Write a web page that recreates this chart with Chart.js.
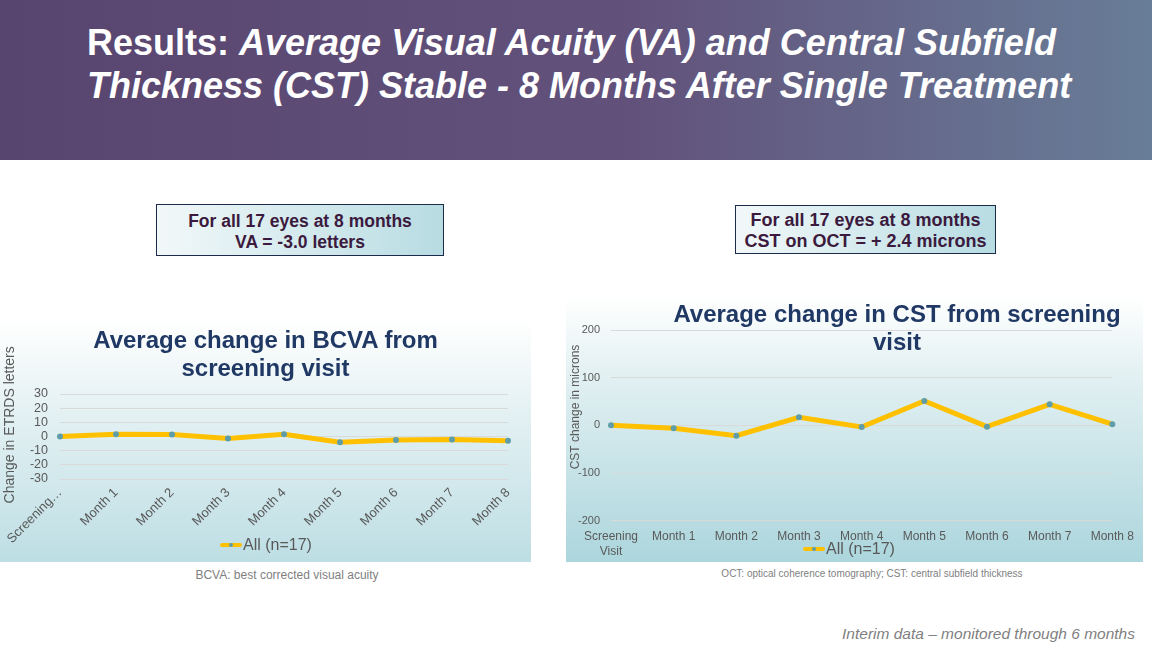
<!DOCTYPE html>
<html>
<head>
<meta charset="utf-8">
<script src="https://cdn.jsdelivr.net/npm/chart.js@4.4.0/dist/chart.umd.min.js"></script>
<style>
body { margin: 0; width: 1152px; height: 648px; position: relative; overflow: hidden; background: #fff; font-family: "Liberation Sans", Arial, sans-serif; }
.header { position: absolute; left: 0; top: 0; width: 1152px; height: 160px; background: linear-gradient(90deg, #58456f 0%, #62527b 55%, #687d98 100%); }
.headtitle { position: absolute; left: 87px; top: 21px; color: #fff; font-weight: bold; font-size: 36px; line-height: 43px; white-space: nowrap; }
.box { position: absolute; box-sizing: border-box; padding-top: 3px; border: 1.5px solid #1d2b4a; background: linear-gradient(90deg, #f2f8f9, #b7dce2); color: #3b1a3e; font-weight: bold; font-size: 17.5px; line-height: 21px; text-align: center; display: flex; flex-direction: column; justify-content: center; }
.panel { position: absolute; background: linear-gradient(180deg, #ffffff 0%, #e6f2f4 35%, #bddee4 100%); }
.ctitle { position: absolute; color: #1f3864; font-weight: bold; font-size: 24px; line-height: 28px; text-align: center; white-space: nowrap; }
.legend { position: absolute; color: #595959; font-size: 16px; line-height: 18px; white-space: nowrap; }
.legend i { display: inline-block; position: relative; width: 22px; height: 4px; background: #ffc000; border-radius: 2px; vertical-align: middle; margin-right: 1px; top: -1px; }
.legend i b { position: absolute; left: 9px; top: 0; width: 4px; height: 4px; border-radius: 2px; background: #5f9ea8; }
.note { position: absolute; color: #7f7f7f; white-space: nowrap; }
canvas { position: absolute; }
</style>
</head>
<body>
<div class="header"></div>
<div class="headtitle">Results: <i>Average Visual Acuity (VA) and Central Subfield</i><br><i>Thickness (CST) Stable - 8 Months After Single Treatment</i></div>

<div class="box" style="left:156px;top:204px;width:288px;height:52px;">For all 17 eyes at 8 months<br>VA = -3.0 letters</div>
<div class="box" style="left:735px;top:205px;width:261px;height:49px;font-size:18px;">For all 17 eyes at 8 months<br>CST on OCT = + 2.4 microns</div>

<div class="panel" style="left:0;top:320px;width:531px;height:242px;"></div>
<div class="panel" style="left:566px;top:297px;width:577px;height:265px;background:linear-gradient(180deg,#ffffff 0%,#e2f0f2 30%,#acd6dd 100%);"></div>

<div style="position:absolute;left:0;top:320px;width:531px;height:242px;"><canvas id="bcva"></canvas></div>
<div style="position:absolute;left:566px;top:297px;width:577px;height:265px;"><canvas id="cst"></canvas></div>

<div class="ctitle" style="left:0;top:326px;width:531px;">Average change in BCVA from<br>screening visit</div>
<div class="ctitle" style="left:647px;top:300px;width:500px;">Average change in CST from screening<br>visit</div>

<div class="legend" style="left:220px;top:536px;"><i><b></b></i>All (n=17)</div>
<div class="legend" style="left:803px;top:540px;"><i><b></b></i>All (n=17)</div>

<div class="note" style="left:0;width:574px;text-align:center;top:568px;font-size:12px;">BCVA: best corrected visual acuity</div>
<div class="note" style="left:572px;width:600px;text-align:center;top:568px;font-size:10px;">OCT: optical coherence tomography; CST: central subfield thickness</div>
<div class="note" style="right:17px;top:625px;font-size:15.5px;font-style:italic;">Interim data – monitored through 6 months</div>

<script>
// Visits and values
var visits = ["Screening Visit", "Month 1", "Month 2", "Month 3", "Month 4", "Month 5", "Month 6", "Month 7", "Month 8"];
var bcvaChange = [0, 1.6, 1.4, -1.4, 1.6, -4.0, -2.5, -2.1, -3.0];
var cstChange = [0, -6.3, -21.7, 16.8, -3.5, 51, -2.8, 44, 2.4];
var bcvaTicks = [30, 20, 10, 0, -10, -20, -30];
var cstTicks = [200, 100, 0, -100, -200];
var bcvaLabels = ["Screening…", "Month 1", "Month 2", "Month 3", "Month 4", "Month 5", "Month 6", "Month 7", "Month 8"];
var cstLabels = [["Screening", "Visit"], "Month 1", "Month 2", "Month 3", "Month 4", "Month 5", "Month 6", "Month 7", "Month 8"];

Chart.defaults.font.family = '"Liberation Sans", Arial, sans-serif';
Chart.defaults.color = "#595959";

function lineChart(id, values, ticks, labels, opts) {
	return new Chart(document.getElementById(id), {
		type: "line",
		data: {
			labels: visits,
			datasets: [
				{
					label: "All (n=17)",
					data: values,
					borderColor: "#ffc000",
					borderWidth: 5,
					tension: 0,
					pointRadius: 3,
					pointBorderWidth: 0,
					pointBackgroundColor: "#5f9ea8",
				},
			],
		},
		options: {
			responsive: true,
			maintainAspectRatio: false,
			animation: false,
			layout: { padding: opts.padding },
			plugins: {
				legend: { display: false },
				tooltip: { enabled: false },
			},
			scales: {
				x: {
					offset: false,
					grid: { display: false, drawTicks: false },
					border: { display: false },
					ticks: {
						autoSkip: false,
						minRotation: opts.rotation,
						maxRotation: opts.rotation,
						padding: opts.xPad,
						font: { size: opts.xFont },
						callback: function (v, i) {
							return labels[i];
						},
					},
					afterFit: function (s) {
						s.height = opts.xHeight;
					},
				},
				y: {
					min: ticks[ticks.length - 1],
					max: ticks[0],
					grid: { color: "#d9d9d9", drawTicks: false },
					border: { display: false },
					ticks: { autoSkip: false, padding: opts.yPad, font: { size: opts.yFont } },
					afterBuildTicks: function (s) {
						s.ticks = ticks.map(function (v) {
							return { value: v };
						});
					},
					afterFit: function (s) {
						s.width = opts.yWidth;
					},
					title: {
						display: true,
						text: opts.yTitle,
						font: { size: opts.yTitleFont },
						padding: { top: 2, bottom: 0 },
					},
				},
			},
		},
	});
}

lineChart("bcva", bcvaChange, bcvaTicks, bcvaLabels, {
	padding: { top: 74, right: 23, left: 0, bottom: 0 },
	rotation: 45,
	xPad: 6,
	xFont: 13,
	xHeight: 83,
	yPad: 12,
	yFont: 12.5,
	yWidth: 60,
	yTitle: "\u00a0\u00a0\u00a0\u00a0\u00a0\u00a0Change in ETRDS letters",
	yTitleFont: 14,
});

lineChart("cst", cstChange, cstTicks, cstLabels, {
	padding: { top: 33, right: 28, left: 0, bottom: 0 },
	rotation: 0,
	xPad: 9,
	xFont: 12,
	xHeight: 41.3,
	yPad: 11,
	yFont: 11,
	yWidth: 45,
	yTitle: "\u00a0\u00a0\u00a0\u00a0\u00a0\u00a0\u00a0\u00a0\u00a0\u00a0\u00a0CST change in microns",
	yTitleFont: 12,
});
</script>
</body>
</html>
